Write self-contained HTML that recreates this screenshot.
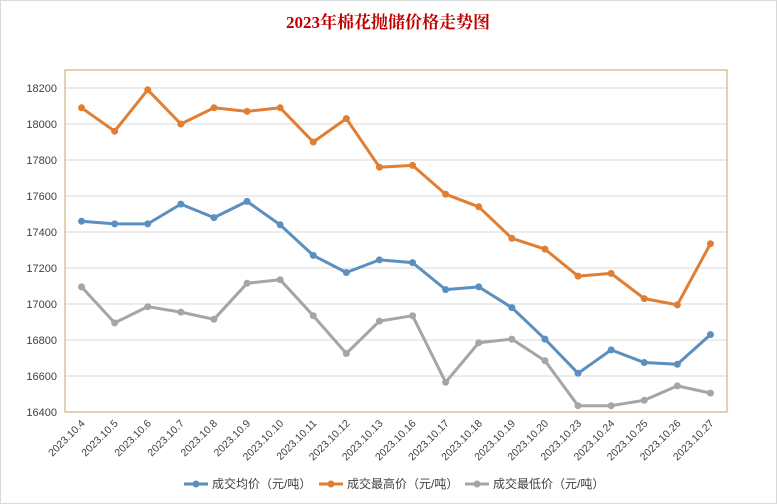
<!DOCTYPE html>
<html><head><meta charset="utf-8"><style>
body{margin:0;background:#fff;}
svg{display:block;font-family:"Liberation Sans","Noto Sans CJK SC",sans-serif;}
</style></head><body>
<svg id="chart" width="777" height="504">
<rect x="0.5" y="0.5" width="776" height="503" fill="#fff" stroke="#d9d9d9"/>
<text x="388" y="28" text-anchor="middle" font-size="17" font-weight="bold" fill="#c00000" font-family="'Liberation Serif','Noto Serif CJK SC',serif">2023年棉花抛储价格走势图</text>
<g id="grid"></g><g id="axes"></g><g id="series"></g><g id="legend"></g>
</svg>
<script>
const categories=["2023.10.4","2023.10.5","2023.10.6","2023.10.7","2023.10.8","2023.10.9","2023.10.10","2023.10.11","2023.10.12","2023.10.13","2023.10.16","2023.10.17","2023.10.18","2023.10.19","2023.10.20","2023.10.23","2023.10.24","2023.10.25","2023.10.26","2023.10.27"];
const avgPrice=[17460,17445,17445,17555,17480,17570,17440,17270,17175,17245,17230,17080,17095,16980,16805,16615,16745,16675,16665,16830];
const highPrice=[18090,17960,18190,18000,18090,18070,18090,17900,18030,17760,17770,17610,17540,17365,17305,17155,17170,17030,16995,17335];
const lowPrice=[17095,16895,16985,16955,16915,17115,17135,16935,16725,16905,16935,16565,16785,16805,16685,16435,16435,16465,16545,16505];
const yTicks=[16400,16600,16800,17000,17200,17400,17600,17800,18000,18200];
const seriesNames=["成交均价（元/吨）","成交最高价（元/吨）","成交最低价（元/吨）"];
const NS="http://www.w3.org/2000/svg";
const L=65,R=727,T=70,B=412,yMin=16400,yMax=18300;
const band=(R-L)/categories.length;
const xs=i=>L+band*(i+0.5);
const ys=v=>B-(v-yMin)/(yMax-yMin)*(B-T);
function mk(tag,attrs,parent){const e=document.createElementNS(NS,tag);for(const k in attrs)e.setAttribute(k,attrs[k]);parent.appendChild(e);return e;}
const grid=document.getElementById('grid'),axes=document.getElementById('axes'),ser=document.getElementById('series'),leg=document.getElementById('legend');
yTicks.forEach(t=>{
 const l=mk('line',{x1:L,x2:R,y1:ys(t),y2:ys(t),stroke:'#d9d9d9','stroke-width':1},grid);
 
 
 const tx=mk('text',{x:L-8,y:ys(t)+4,'text-anchor':'end','font-size':11,fill:'#404040'},axes);
 tx.textContent=t;
 
 
});
const box=mk('rect',{x:L,y:T,width:R-L,height:B-T,fill:'none',stroke:'#c9a36b','stroke-width':1},grid);


categories.forEach((c,i)=>{
 const x=xs(i)+4,y=B+12;
 const tx=mk('text',{x:x,y:y,'text-anchor':'end','font-size':10.5,fill:'#404040',transform:`rotate(-45 ${x} ${y})`},axes);
 tx.textContent=c;
 
 
});
const data=[avgPrice,highPrice,lowPrice],colors=['#5b8fbf','#e07f34','#a5a5a5'],names=['avg-price','high-price','low-price'];
data.forEach((arr,s)=>{
 const g=mk('g',{},ser);
 
 
 const p=mk('polyline',{points:arr.map((v,i)=>xs(i)+','+ys(v)).join(' '),fill:'none',stroke:colors[s],'stroke-width':3,'stroke-linejoin':'round'},g);
 
 
 arr.forEach((v,i)=>{
  const c=mk('circle',{cx:xs(i),cy:ys(v),r:3.5,fill:colors[s]},g);
  
  
 });
});
const lx=[184,319,465];
seriesNames.forEach((n,s)=>{
 const g=mk('g',{},leg);
 
 
 mk('line',{x1:lx[s],x2:lx[s]+24,y1:484,y2:484,stroke:colors[s],'stroke-width':3},g);
 mk('circle',{cx:lx[s]+12,cy:484,r:3.5,fill:colors[s]},g);
 const t=mk('text',{x:lx[s]+28,y:488,'font-size':12,fill:'#404040'},g);
 t.textContent=n;
});
</script>
</body></html>
